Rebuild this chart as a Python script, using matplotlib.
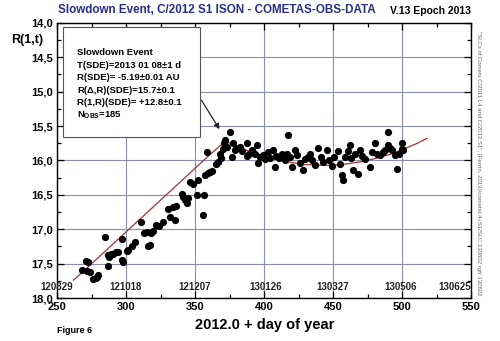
import matplotlib
matplotlib.use("Agg")
from matplotlib import pyplot as plt
from matplotlib.patches import Rectangle

plt.rcParams['font.family'] = ['Liberation Sans', 'DejaVu Sans']

# observations: day of year (2012.0 + d) and reduced magnitude R(1,t)
days = [268.0, 271.0, 272.5, 271.5, 274.0, 276.3, 278.0, 278.7, 280.0, 284.8,
        287.2, 288.0, 287.2, 289.0, 290.8, 292.5, 294.4, 296.8, 296.8, 298.0,
        300.5, 301.7, 304.0, 306.5, 310.9, 313.0, 315.0, 316.2, 317.4, 318.0,
        319.5, 321.7, 324.0, 327.0, 330.6, 331.9, 334.3, 335.5, 336.0, 340.3,
        341.5, 342.7, 343.9, 345.0, 346.4, 348.8, 351.2, 352.4, 356.0, 356.5,
        357.2, 358.5, 359.6, 361.0, 362.0, 365.0, 366.9, 368.1, 369.0, 370.0,
        371.0, 371.7, 373.0, 375.4, 376.6, 377.7, 379.0, 380.0, 382.6, 384.0,
        387.5, 387.5, 389.0, 391.0, 393.5, 394.7, 395.9, 397.0, 399.5, 401.0,
        403.0, 404.3, 406.8, 408.0, 409.0, 411.0, 413.0, 415.0, 416.4, 417.6,
        419.0, 420.0, 422.4, 424.0, 426.0, 428.5, 430.0, 432.0, 433.3, 435.0,
        437.0, 439.3, 441.0, 443.0, 445.4, 447.0, 449.0, 451.0, 453.8, 455.0,
        456.3, 457.4, 459.0, 461.0, 462.3, 463.0, 464.7, 466.0, 468.3, 469.5,
        471.0, 473.0, 476.8, 478.0, 480.4, 482.0, 484.0, 486.0, 488.0, 490.0,
        490.0, 491.5, 493.0, 495.0, 496.1, 498.0, 499.7, 500.0, 501.0]
mags = [17.59, 17.46, 17.48, 17.60, 17.62, 17.73, 17.71, 17.69, 17.67, 17.12,
        17.37, 17.40, 17.53, 17.36, 17.36, 17.33, 17.33, 17.14, 17.45, 17.47,
        17.31, 17.30, 17.25, 17.18, 16.89, 17.05, 17.04, 17.25, 17.23, 17.06,
        17.02, 16.94, 16.95, 16.90, 16.71, 16.82, 16.68, 16.87, 16.66, 16.49,
        16.53, 16.58, 16.62, 16.55, 16.31, 16.34, 16.50, 16.29, 16.79, 16.50,
        16.21, 15.88, 16.18, 16.17, 16.15, 16.05, 16.02, 15.90, 15.97, 15.83,
        15.75, 15.71, 15.80, 15.58, 15.95, 15.74, 15.85, 15.82, 15.81, 15.87,
        15.74, 15.94, 15.90, 15.85, 15.90, 15.77, 16.04, 15.95, 15.92, 15.98,
        15.88, 15.97, 15.85, 16.09, 15.93, 15.96, 15.90, 15.99, 15.90, 15.63,
        15.95, 16.09, 15.85, 15.92, 16.04, 16.14, 15.98, 15.95, 15.90, 16.00,
        16.07, 15.82, 15.95, 16.02, 15.85, 16.00, 16.08, 15.95, 15.87, 16.05,
        16.21, 16.28, 15.95, 15.87, 15.77, 15.96, 16.14, 15.90, 16.19, 15.85,
        15.93, 15.98, 16.09, 15.88, 15.75, 15.90, 15.92, 15.88, 15.85, 15.58,
        15.77, 15.82, 15.85, 15.92, 16.12, 15.90, 15.75, 15.83, 15.85]

# fitted law
fit_days = [262, 280, 300, 320, 340, 360, 372, 380, 390, 400, 410, 420, 430,
            443, 450, 460, 470, 480, 490, 500, 510, 518]
fit_mags = [17.74, 17.41, 17.04, 16.67, 16.30, 15.93, 15.72, 15.795, 15.875,
            15.94, 15.99, 16.03, 16.06, 16.07, 16.07, 16.05, 16.02, 15.975,
            15.92, 15.845, 15.76, 15.68]

date_days = [250, 300, 350, 401, 450, 499, 550]
date_labels = ['120829', '121018', '121207', '130126', '130327', '130506', '130625']

box_lines = ['Slowdown Event',
             'T(SDE)=2013 01 08\u00b11 d',
             'R(SDE)= -5.19\u00b10.01 AU',
             'R(\u0394,R)(SDE)=15.7\u00b10.1',
             'R(1,R)(SDE)= +12.8\u00b10.1',
             r'N$_{\mathregular{OBS}}$=185']

fig = plt.figure(figsize=(5, 3.41), dpi=100)
ax = fig.add_axes([0.114, 0.126, 0.828, 0.807])

ax.set_xlim(250, 550)
ax.set_ylim(18.0, 14.0)
ax.set_xticks(range(250, 551, 50))
ax.set_xticks(range(250, 551, 25), minor=True)
ax.set_yticks([14.0 + 0.5 * i for i in range(9)])
ax.set_yticks([14.0 + 0.25 * i for i in range(17)], minor=True)
ax.set_yticklabels([('%.1f' % (14.0 + 0.5 * i)).replace('.', ',') for i in range(9)])
ax.grid(True, which='major', color='#8a8fa6', linewidth=0.8)
ax.tick_params(which='both', direction='in', top=True, right=True,
               labelsize=8, pad=3, width=0.9)
ax.tick_params(which='major', length=5)
ax.tick_params(which='minor', length=3)
for lab in ax.get_xticklabels() + ax.get_yticklabels():
    lab.set_fontweight('bold')
for s in ax.spines.values():
    s.set_linewidth(1.0)

ax.plot(fit_days, fit_mags, color='#a03238', linewidth=0.9, zorder=2)
ax.scatter(days, mags, s=27, color='black', zorder=3, linewidths=0)

for d, lab in zip(date_days, date_labels):
    ha = 'right' if d >= 550 else 'center'
    ax.text(d, 17.84, lab, ha=ha, va='center', fontsize=7,
            fontweight='bold', color='#222222', clip_on=False)

ax.add_patch(Rectangle((254.3, 14.06), 99.3, 1.6, facecolor='white',
                       edgecolor='#555555', linewidth=0.8, zorder=4))
for i, line in enumerate(box_lines):
    ax.text(264.5, 14.43 + i * 0.183, line, fontsize=6.8, fontweight='bold',
            va='center', ha='left', zorder=5)

ax.annotate('', xy=(368.8, 15.58), xytext=(353.6, 15.09),
            arrowprops=dict(arrowstyle='-|>', color='#222222', lw=0.9,
                            mutation_scale=8), zorder=5)

fig.text(0.116, 0.972, 'Slowdown Event, C/2012 S1 ISON - COMETAS-OBS-DATA',
         color='#2b2d85', fontsize=8.4, fontweight='bold', va='center', ha='left')
fig.text(0.942, 0.968, 'V.13 Epoch 2013', fontsize=7.5, fontweight='bold',
         va='center', ha='right')
fig.text(0.022, 0.883, 'R(1,t)', fontsize=9, fontweight='bold', va='center')
fig.text(0.53, 0.047, '2012.0 + day of year', fontsize=10.5, fontweight='bold',
         va='center', ha='center')
fig.text(0.114, 0.032, 'Figure 6', fontsize=6.5, fontweight='bold', va='center')
fig.text(0.958, 0.52,
         '"SLCs of Comets C/2011 L4 and C/2012 S1", (Ferr\u00edn, 2013)/cometsL4+S1/SLC 130602 rgfr 130602',
         rotation=270, fontsize=4.3, color='#666666', va='center', ha='center')

fig.savefig('out.png', dpi=100)
